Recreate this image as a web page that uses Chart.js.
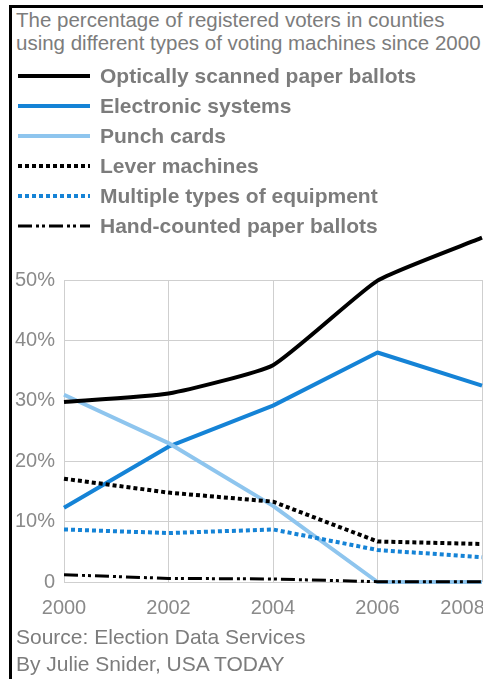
<!DOCTYPE html>
<html>
<head>
<meta charset="utf-8">
<script src="https://cdn.jsdelivr.net/npm/chart.js@4.4.1/dist/chart.umd.min.js"></script>
<style>
  html, body { margin: 0; padding: 0; background: #fff; overflow: hidden; width: 483px; height: 679px; }
  body { position: relative; font-family: "Liberation Sans", Arial, sans-serif; }
  #frame { position: absolute; left: 9px; top: 5px; width: 600px; height: 800px;
           border-left: 3px solid #000; border-top: 3px solid #000; }
  #title { position: absolute; left: 16px; top: 8px; font-size: 20.5px; line-height: 23px; color: #7c7c7c; white-space: nowrap; }
  #foot { position: absolute; left: 16px; top: 623px; font-size: 21px; line-height: 27px; color: #7c7c7c; white-space: nowrap; }
  canvas { position: absolute; left: 0; top: 0; }
</style>
</head>
<body>
<div id="frame"></div>
<div id="title">The percentage of registered voters in counties<br>using different types of voting machines since 2000</div>
<canvas id="voteChart" width="540" height="679" style="width:540px;height:679px"></canvas>
<div id="foot">Source: Election Data Services<br>By Julie Snider, USA TODAY</div>
<script>
// ----------------- 数据 -----------------
const years = ['2000', '2002', '2004', '2006', '2008'];
const seriesNames = [
  'Optically scanned paper ballots',
  'Electronic systems',
  'Punch cards',
  'Lever machines',
  'Multiple types of equipment',
  'Hand-counted paper ballots'
];
const optical    = [29.8, 31.2, 35.9, 49.9, 57.0];
const electronic = [12.3, 22.4, 29.2, 38.0, 32.5];
const punch      = [31.0, 23.0, 12.6, 0, 0];
const lever      = [17.1, 14.8, 13.3, 6.7, 6.3];
const multiple   = [8.7, 8.1, 8.7, 5.3, 4.1];
const hand       = [1.2, 0.6, 0.5, 0.05, 0.05];
const yTicks     = [0, 10, 20, 30, 40, 50];

const FONT = '"Liberation Sans", Arial, sans-serif';
const BLUE = '#1583d6';
const LIGHT = '#8ec5ee';

// legend drawn by hand, the dash patterns come from the datasets
const handLegend = {
  id: 'handLegend',
  afterDraw(chart) {
    const ctx = chart.ctx;
    ctx.save();
    chart.data.datasets.forEach((ds, i) => {
      const y = 76 + i * 30;
      ctx.beginPath();
      ctx.setLineDash(ds.borderDash || []);
      ctx.lineWidth = ds.borderWidth;
      ctx.strokeStyle = ds.borderColor;
      ctx.lineCap = 'butt';
      ctx.moveTo(18, y);
      ctx.lineTo(90, y);
      ctx.stroke();
      ctx.setLineDash([]);
      ctx.fillStyle = '#7c7c7c';
      ctx.font = 'bold 21px ' + FONT;
      ctx.textBaseline = 'middle';
      ctx.fillText(ds.label, 100, y + 1);
    });
    ctx.restore();
  }
};

function mk(i, data, color, width, dash, order, tension) {
  return {
    label: seriesNames[i], data: data,
    borderColor: color, backgroundColor: color,
    borderWidth: width, borderDash: dash,
    borderCapStyle: 'butt', borderJoinStyle: 'round',
    pointRadius: 0, tension: tension || 0,
    clip: false, order: order
  };
}

const ctx = document.getElementById('voteChart').getContext('2d');
const voteChart = new Chart(ctx, {
  type: 'line',
  data: {
    labels: years,
    datasets: [
      mk(0, optical, '#000', 4, [], 0, 0.15),
      mk(1, electronic, BLUE, 4, [], 5),
      mk(2, punch, LIGHT, 4, [], 4),
      mk(3, lever, '#000', 4, [4, 3], 2),
      mk(4, multiple, BLUE, 4, [4, 3], 3),
      mk(5, hand, '#000', 3, [14, 4, 3, 3, 3, 4], 1)
    ]
  },
  options: {
    responsive: false,
    animation: false,
    devicePixelRatio: 1,
    layout: { padding: { top: 280, left: 0, right: 58, bottom: 0 } },
    plugins: { legend: { display: false }, tooltip: { enabled: false } },
    scales: {
      x: {
        offset: false,
        grid: { color: '#cfcfcf', drawTicks: false },
        border: { display: false },
        ticks: {
          color: '#8a8a8a', font: { size: 20, family: FONT }, padding: 14, maxRotation: 0, autoSkip: false,
          // the last label sits pulled in from the cut edge, as in the print
          callback: (v, i) => i === years.length - 1 ? years[i] + '       ' : years[i]
        },
        afterFit: s => { s.height = 97; }
      },
      y: {
        min: 0, max: 50,
        afterBuildTicks: s => { s.ticks = yTicks.map(v => ({ value: v })); },
        grid: { color: '#cfcfcf', drawTicks: false },
        border: { display: false },
        ticks: {
          color: '#8a8a8a', font: { size: 20, family: FONT }, padding: 9,
          callback: v => v === 0 ? '0' : v + '%'
        },
        afterFit: s => { s.width = 64; }
      }
    }
  },
  plugins: [handLegend]
});
</script>
</body>
</html>
